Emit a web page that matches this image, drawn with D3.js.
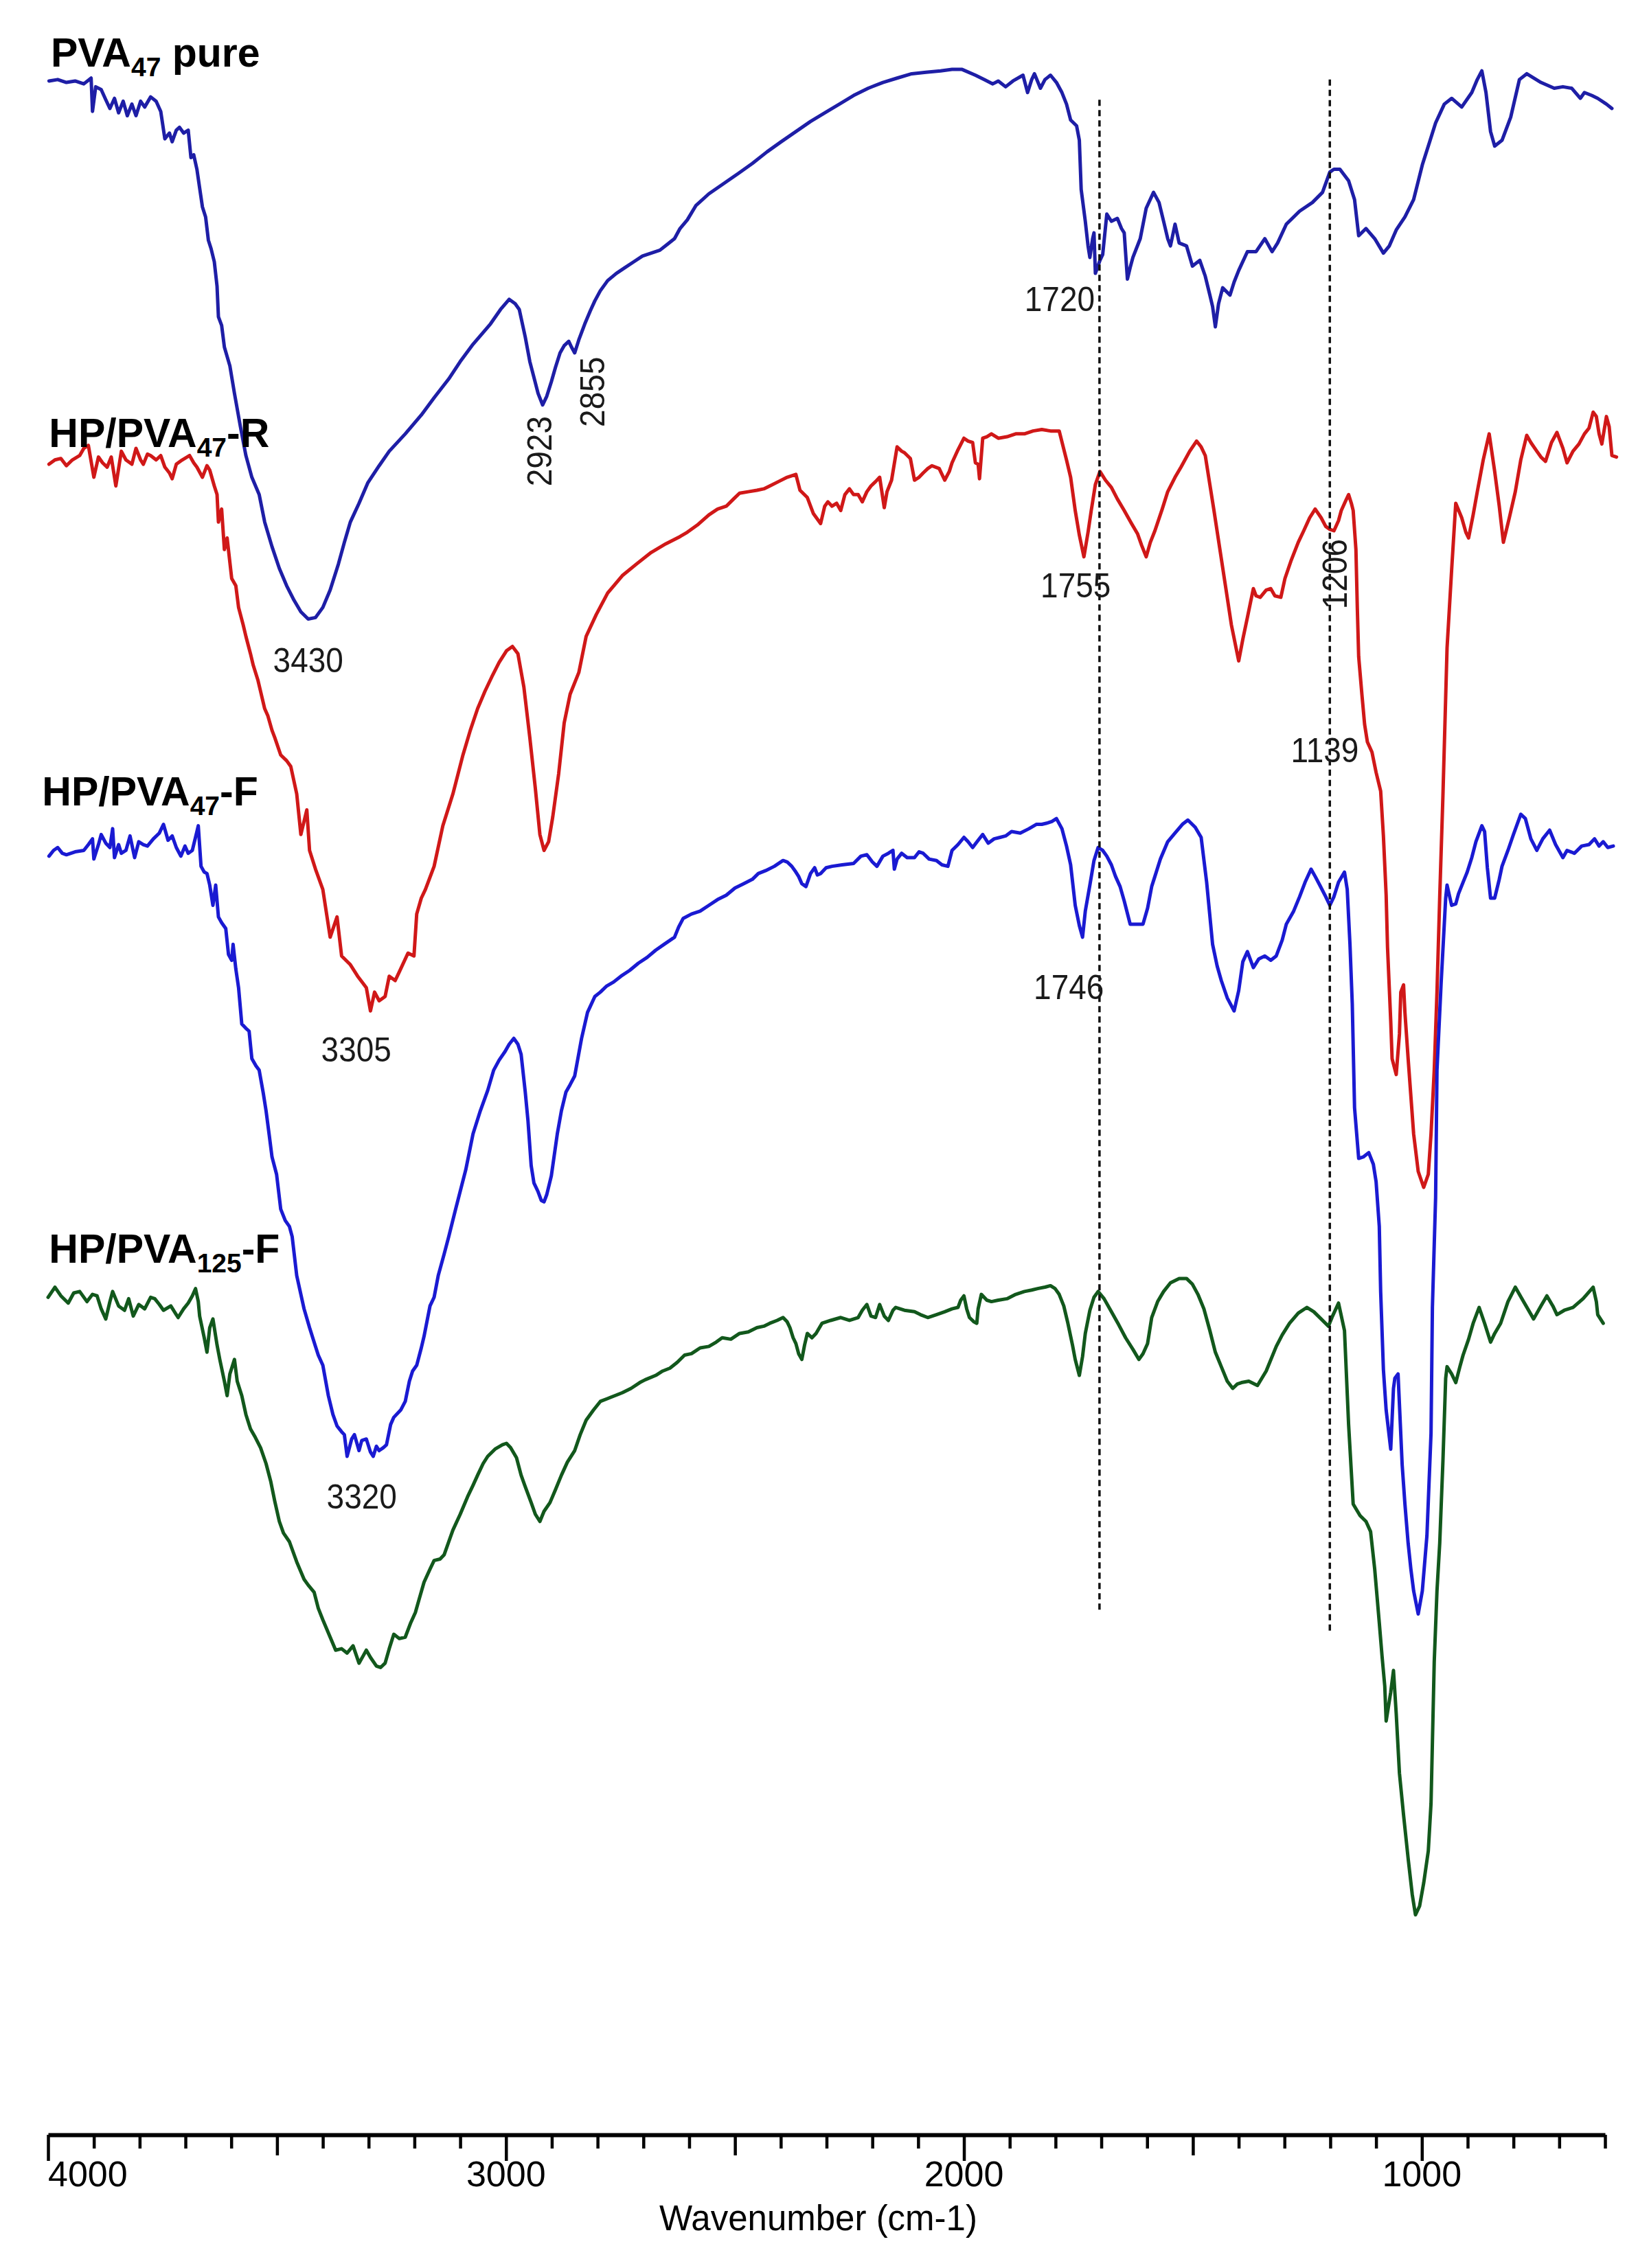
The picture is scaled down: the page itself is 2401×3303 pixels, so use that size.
<!DOCTYPE html>
<html><head><meta charset="utf-8">
<script src="https://cdn.jsdelivr.net/npm/d3@7"></script>
<style>
html,body{margin:0;padding:0;background:#fff;}
svg{display:block;background:#fff;}
text{font-family:"Liberation Sans", Arial, Helvetica, sans-serif;}
</style></head><body>
<svg id="chart" width="2401" height="3303"></svg>
<script>
// ---- DATA (wavenumber cm-1, offset transmittance a.u.) ----
const pvaPure = [[3998,1422],[3979,1423],[3960,1421],[3941,1422],[3922,1420],[3906,1424],[3903,1401],[3896,1418],[3884,1416],[3874,1409],[3865,1403],[3855,1410],[3846,1400],[3836,1408],[3827,1398],[3817,1406],[3808,1398],[3798,1408],[3789,1404],[3776,1411],[3764,1408],[3754,1401],[3745,1382],[3735,1386],[3729,1380],[3720,1388],[3713,1390],[3704,1386],[3694,1388],[3688,1369],[3682,1371],[3675,1361],[3669,1348],[3663,1335],[3656,1328],[3650,1312],[3644,1306],[3637,1297],[3631,1280],[3628,1259],[3621,1253],[3615,1238],[3603,1225],[3593,1206],[3580,1183],[3568,1163],[3555,1148],[3539,1136],[3527,1117],[3511,1100],[3495,1085],[3479,1073],[3463,1063],[3448,1055],[3432,1050],[3416,1051],[3400,1058],[3384,1070],[3366,1088],[3353,1103],[3340,1117],[3321,1130],[3302,1144],[3277,1156],[3255,1166],[3220,1178],[3185,1191],[3157,1203],[3125,1216],[3100,1228],[3072,1240],[3053,1247],[3034,1254],[3012,1264],[2993,1271],[2980,1268],[2971,1264],[2958,1245],[2948,1228],[2939,1217],[2930,1206],[2920,1198],[2911,1204],[2901,1214],[2892,1224],[2882,1234],[2873,1239],[2863,1242],[2857,1238],[2850,1234],[2841,1243],[2828,1254],[2816,1263],[2806,1270],[2794,1277],[2778,1284],[2759,1289],[2740,1293],[2721,1297],[2702,1301],[2683,1303],[2664,1305],[2648,1309],[2632,1313],[2620,1320],[2604,1326],[2585,1336],[2557,1344],[2525,1351],[2493,1358],[2462,1365],[2430,1373],[2399,1380],[2367,1387],[2335,1394],[2304,1400],[2272,1406],[2241,1412],[2209,1417],[2177,1421],[2146,1424],[2114,1427],[2083,1428],[2051,1429],[2026,1430],[2004,1430],[1975,1426],[1956,1423],[1937,1420],[1925,1422],[1909,1418],[1893,1422],[1871,1426],[1861,1414],[1852,1423],[1846,1427],[1833,1417],[1823,1423],[1811,1426],[1798,1421],[1786,1414],[1776,1406],[1767,1395],[1754,1391],[1748,1381],[1744,1347],[1735,1325],[1729,1308],[1725,1300],[1719,1313],[1716,1317],[1713,1289],[1703,1298],[1697,1302],[1688,1330],[1678,1325],[1665,1327],[1656,1320],[1650,1317],[1643,1285],[1637,1293],[1631,1300],[1615,1313],[1602,1334],[1586,1345],[1574,1338],[1564,1325],[1555,1313],[1549,1308],[1539,1323],[1530,1310],[1514,1308],[1501,1294],[1485,1298],[1473,1287],[1463,1274],[1457,1266],[1451,1252],[1444,1268],[1435,1279],[1419,1274],[1410,1283],[1400,1291],[1381,1304],[1362,1304],[1343,1313],[1327,1304],[1315,1310],[1296,1323],[1267,1332],[1239,1338],[1217,1345],[1201,1359],[1192,1361],[1179,1361],[1160,1353],[1147,1340],[1138,1315],[1122,1320],[1103,1313],[1084,1303],[1071,1308],[1056,1319],[1037,1328],[1018,1340],[999,1364],[983,1380],[970,1393],[951,1406],[935,1410],[913,1404],[891,1414],[879,1423],[869,1429],[860,1414],[850,1387],[841,1377],[825,1381],[806,1397],[787,1423],[771,1427],[740,1421],[711,1417],[692,1418],[673,1417],[654,1410],[645,1414],[629,1412],[616,1410],[597,1406],[585,1403]];

const hpPva47R = [[3998,1157],[3985,1160],[3972,1161],[3960,1156],[3947,1160],[3931,1163],[3922,1168],[3912,1170],[3900,1148],[3890,1162],[3881,1158],[3871,1155],[3862,1162],[3852,1142],[3840,1166],[3830,1160],[3817,1157],[3808,1168],[3798,1160],[3792,1157],[3783,1164],[3776,1163],[3764,1160],[3754,1163],[3745,1155],[3735,1151],[3729,1147],[3720,1157],[3707,1160],[3691,1163],[3682,1158],[3675,1155],[3663,1148],[3653,1156],[3647,1153],[3637,1142],[3631,1136],[3628,1117],[3621,1126],[3615,1098],[3609,1106],[3599,1078],[3590,1073],[3584,1058],[3574,1046],[3568,1038],[3558,1026],[3552,1018],[3542,1008],[3536,1000],[3527,988],[3520,983],[3511,973],[3505,968],[3492,956],[3479,952],[3470,948],[3457,929],[3448,901],[3435,918],[3429,890],[3416,877],[3400,863],[3384,830],[3369,844],[3359,817],[3340,811],[3324,803],[3312,798],[3305,795],[3296,779],[3287,792],[3277,786],[3264,789],[3255,803],[3242,800],[3233,806],[3214,819],[3201,817],[3195,846],[3185,857],[3176,863],[3157,879],[3138,907],[3116,929],[3094,956],[3078,973],[3062,988],[3046,1000],[3031,1010],[3015,1020],[2999,1028],[2986,1031],[2974,1026],[2961,1003],[2948,968],[2936,933],[2926,901],[2917,890],[2907,896],[2898,913],[2885,943],[2873,978],[2860,998],[2841,1013],[2825,1038],[2803,1053],[2778,1068],[2746,1080],[2715,1088],[2683,1096],[2651,1102],[2620,1107],[2604,1110],[2582,1115],[2557,1122],[2538,1126],[2519,1128],[2503,1133],[2490,1137],[2471,1138],[2452,1139],[2437,1140],[2424,1142],[2405,1145],[2386,1148],[2367,1150],[2358,1139],[2342,1134],[2329,1123],[2313,1116],[2304,1128],[2297,1131],[2288,1128],[2278,1130],[2269,1125],[2260,1136],[2250,1140],[2241,1136],[2231,1136],[2222,1131],[2212,1138],[2203,1142],[2193,1145],[2184,1148],[2174,1127],[2168,1138],[2158,1146],[2146,1169],[2136,1166],[2130,1165],[2117,1161],[2108,1146],[2098,1148],[2089,1151],[2079,1154],[2070,1156],[2054,1154],[2042,1146],[2032,1152],[2026,1158],[2013,1167],[2000,1175],[1991,1173],[1981,1172],[1975,1158],[1969,1157],[1966,1147],[1959,1175],[1950,1176],[1940,1178],[1925,1175],[1906,1176],[1887,1178],[1868,1178],[1849,1180],[1830,1181],[1811,1180],[1792,1180],[1776,1160],[1767,1148],[1757,1125],[1748,1108],[1738,1093],[1729,1110],[1722,1125],[1713,1143],[1703,1152],[1691,1146],[1678,1141],[1665,1133],[1650,1125],[1634,1116],[1621,1109],[1612,1101],[1602,1093],[1593,1103],[1583,1111],[1567,1126],[1555,1138],[1539,1148],[1526,1155],[1507,1166],[1492,1173],[1482,1169],[1473,1163],[1463,1143],[1454,1125],[1441,1098],[1428,1071],[1416,1046],[1400,1021],[1391,1036],[1381,1051],[1368,1071],[1362,1066],[1353,1065],[1340,1070],[1330,1071],[1321,1066],[1308,1065],[1299,1078],[1286,1090],[1270,1103],[1258,1111],[1245,1120],[1233,1126],[1220,1120],[1210,1114],[1201,1112],[1192,1111],[1182,1118],[1176,1125],[1166,1132],[1160,1136],[1154,1130],[1150,1125],[1144,1098],[1141,1058],[1138,1024],[1131,998],[1125,977],[1119,965],[1109,958],[1100,944],[1090,931],[1084,900],[1078,859],[1075,823],[1068,772],[1065,746],[1056,735],[1049,763],[1046,792],[1040,797],[1037,778],[1030,746],[1024,720],[1018,694],[1008,668],[996,657],[986,666],[980,694],[973,738],[967,792],[961,858],[954,928],[945,1030],[935,1084],[926,1130],[913,1120],[904,1110],[898,1106],[888,1122],[879,1138],[866,1160],[853,1178],[841,1152],[831,1128],[822,1103],[809,1120],[796,1138],[784,1160],[771,1177],[762,1172],[749,1166],[740,1162],[730,1159],[717,1172],[705,1179],[692,1168],[683,1158],[670,1166],[657,1171],[645,1178],[635,1182],[626,1193],[619,1190],[613,1178],[607,1171],[597,1190],[591,1183],[585,1163],[575,1162]];

const hpPva47F = [[3998,886],[3988,890],[3979,892],[3969,888],[3960,887],[3941,889],[3922,890],[3912,894],[3903,898],[3900,884],[3890,894],[3884,901],[3874,895],[3865,892],[3859,905],[3855,885],[3846,894],[3840,888],[3830,890],[3821,900],[3811,885],[3802,896],[3792,894],[3783,893],[3770,898],[3757,902],[3748,908],[3738,897],[3729,900],[3720,892],[3710,886],[3701,893],[3694,888],[3685,890],[3675,903],[3672,907],[3666,879],[3659,875],[3653,874],[3647,866],[3640,852],[3634,866],[3628,844],[3621,840],[3612,836],[3606,818],[3599,814],[3596,825],[3590,808],[3584,795],[3577,770],[3568,767],[3561,765],[3555,746],[3546,741],[3539,738],[3530,722],[3524,710],[3517,693],[3511,678],[3501,666],[3492,642],[3482,634],[3473,630],[3467,623],[3457,596],[3448,583],[3441,573],[3429,560],[3416,547],[3410,541],[3400,534],[3388,513],[3378,500],[3369,492],[3359,488],[3353,486],[3347,471],[3337,483],[3331,486],[3321,475],[3315,482],[3305,483],[3296,474],[3290,471],[3283,478],[3277,475],[3268,477],[3261,479],[3252,493],[3245,498],[3230,503],[3220,509],[3211,523],[3204,530],[3195,534],[3185,546],[3179,554],[3166,575],[3157,581],[3148,596],[3135,611],[3125,623],[3110,642],[3097,658],[3088,669],[3072,694],[3056,710],[3040,724],[3027,738],[3015,745],[3002,751],[2993,756],[2983,760],[2974,756],[2967,749],[2958,723],[2952,703],[2945,672],[2939,660],[2930,654],[2923,648],[2917,647],[2911,652],[2901,665],[2888,694],[2879,710],[2869,723],[2860,728],[2850,734],[2835,760],[2822,778],[2806,789],[2794,792],[2781,796],[2765,799],[2749,803],[2730,807],[2711,812],[2692,816],[2673,821],[2655,825],[2632,830],[2623,837],[2613,843],[2595,846],[2576,848],[2557,852],[2538,856],[2519,859],[2500,864],[2481,867],[2462,870],[2449,874],[2433,876],[2414,879],[2395,883],[2386,882],[2376,879],[2367,875],[2361,872],[2354,867],[2345,865],[2335,874],[2326,878],[2320,873],[2313,874],[2301,878],[2288,879],[2266,880],[2241,881],[2225,886],[2212,887],[2200,882],[2190,879],[2177,886],[2165,888],[2155,890],[2152,877],[2146,884],[2136,888],[2124,885],[2108,885],[2098,889],[2089,888],[2076,884],[2060,883],[2048,880],[2035,879],[2026,890],[2013,894],[2000,899],[1991,896],[1981,892],[1969,897],[1959,901],[1947,895],[1934,898],[1921,899],[1909,900],[1896,903],[1877,902],[1858,905],[1842,908],[1830,908],[1817,909],[1808,910],[1798,912],[1786,905],[1776,893],[1767,880],[1757,852],[1748,838],[1741,830],[1735,848],[1725,866],[1716,883],[1707,892],[1697,890],[1688,886],[1678,880],[1669,872],[1659,865],[1650,855],[1637,839],[1624,839],[1609,839],[1599,850],[1590,865],[1583,872],[1571,884],[1555,896],[1539,902],[1523,908],[1511,911],[1495,906],[1482,899],[1470,868],[1457,825],[1447,810],[1438,800],[1425,788],[1410,779],[1400,793],[1391,813],[1381,820],[1368,809],[1356,815],[1343,817],[1330,814],[1318,817],[1305,828],[1296,839],[1280,848],[1267,858],[1255,868],[1242,877],[1233,872],[1223,866],[1210,858],[1201,852],[1192,858],[1182,868],[1169,875],[1163,863],[1157,825],[1152,784],[1147,712],[1138,677],[1128,678],[1116,681],[1106,673],[1100,661],[1093,630],[1090,585],[1084,531],[1078,503],[1068,476],[1062,518],[1059,525],[1052,528],[1043,465],[1037,438],[1030,411],[1024,393],[1018,378],[1008,362],[999,378],[989,416],[980,487],[977,574],[970,650],[967,738],[961,778],[958,798],[948,857],[945,866],[935,852],[926,853],[920,860],[910,868],[901,875],[891,885],[882,896],[869,907],[863,903],[857,878],[850,857],[841,857],[831,870],[825,879],[812,890],[800,901],[784,915],[774,912],[762,898],[749,890],[736,898],[721,904],[708,894],[692,885],[683,890],[667,888],[651,893],[635,894],[623,898],[613,893],[604,896],[594,892],[582,893]];

const hpPva125F = [[4000,581],[3985,588],[3972,582],[3956,577],[3944,584],[3931,585],[3915,578],[3903,583],[3893,582],[3884,573],[3874,566],[3865,578],[3859,585],[3846,575],[3833,572],[3824,580],[3814,568],[3802,576],[3789,573],[3776,581],[3767,580],[3757,576],[3748,572],[3732,575],[3716,567],[3704,573],[3694,577],[3685,582],[3678,587],[3672,578],[3669,568],[3659,553],[3653,543],[3647,560],[3640,566],[3631,548],[3625,538],[3615,523],[3609,513],[3603,528],[3593,538],[3587,523],[3577,513],[3568,500],[3558,490],[3549,485],[3536,477],[3524,466],[3514,454],[3505,440],[3495,426],[3486,418],[3473,412],[3457,398],[3441,386],[3432,382],[3419,377],[3410,366],[3400,358],[3384,346],[3372,337],[3359,338],[3347,335],[3334,340],[3321,328],[3312,333],[3305,337],[3296,332],[3283,326],[3274,325],[3264,328],[3255,338],[3245,348],[3233,345],[3220,346],[3208,356],[3198,363],[3189,373],[3179,384],[3166,393],[3157,399],[3144,400],[3135,403],[3125,412],[3116,420],[3100,431],[3084,443],[3072,451],[3062,458],[3050,466],[3040,471],[3024,476],[3008,479],[2999,480],[2990,477],[2977,470],[2967,458],[2958,450],[2945,439],[2936,431],[2926,426],[2917,433],[2904,439],[2892,448],[2879,458],[2866,467],[2850,475],[2838,486],[2825,496],[2809,503],[2794,509],[2778,511],[2762,513],[2746,515],[2727,518],[2708,522],[2696,524],[2673,527],[2658,530],[2642,532],[2626,536],[2610,541],[2595,542],[2576,546],[2557,547],[2541,550],[2528,553],[2509,552],[2490,556],[2471,557],[2452,560],[2437,561],[2424,563],[2408,565],[2395,567],[2386,564],[2380,560],[2373,553],[2367,549],[2361,542],[2354,538],[2348,548],[2342,556],[2332,553],[2323,556],[2310,563],[2291,565],[2269,567],[2250,565],[2231,567],[2222,572],[2212,576],[2203,568],[2193,567],[2184,576],[2174,568],[2165,565],[2155,572],[2149,574],[2130,572],[2108,571],[2095,569],[2079,567],[2060,569],[2042,571],[2026,573],[2013,574],[2007,579],[2000,582],[1994,573],[1988,567],[1978,564],[1972,563],[1969,573],[1962,583],[1950,579],[1940,578],[1925,579],[1906,580],[1887,583],[1868,585],[1852,586],[1839,587],[1823,588],[1811,589],[1801,587],[1792,583],[1782,575],[1773,563],[1763,548],[1757,538],[1748,527],[1741,540],[1735,556],[1725,572],[1716,581],[1707,585],[1694,580],[1678,571],[1662,562],[1647,553],[1631,545],[1618,538],[1609,542],[1599,549],[1590,567],[1577,578],[1564,585],[1549,591],[1530,594],[1514,594],[1501,590],[1489,583],[1476,573],[1463,558],[1451,543],[1438,533],[1425,523],[1413,518],[1403,521],[1394,522],[1378,523],[1359,520],[1340,530],[1318,547],[1305,555],[1289,563],[1270,570],[1251,574],[1236,571],[1220,566],[1204,561],[1195,568],[1182,577],[1169,558],[1160,493],[1150,438],[1135,430],[1122,426],[1112,419],[1103,393],[1093,356],[1087,333],[1081,312],[1078,288],[1068,308],[1062,323],[1056,293],[1049,252],[1040,223],[1030,193],[1021,168],[1014,154],[1005,160],[996,176],[986,198],[980,231],[973,329],[967,378],[961,411],[954,468],[948,525],[945,533],[935,528],[926,522],[917,533],[910,541],[898,552],[888,563],[875,574],[863,563],[850,550],[841,556],[828,563],[812,578],[796,588],[778,578],[756,566],[740,575],[727,582],[714,575],[705,569],[689,572],[670,574],[648,580],[626,588],[619,578],[616,569],[610,566],[604,563]];

const seriesLabels = [
  {main:"PVA", sub:"47", tail:" pure"},
  {main:"HP/PVA", sub:"47", tail:"-R"},
  {main:"HP/PVA", sub:"47", tail:"-F"},
  {main:"HP/PVA", sub:"125", tail:"-F"}
];
const peakLabels = ["3430","2923","2855","1720","1755","1206","1139","3305","1746","3320"];
const markerWavenumbers = [1704, 1201];
const xTickLabels = [4000, 3000, 2000, 1000];
const xAxisTitle = "Wavenumber (cm-1)";

// ---- LAYOUT / STYLE ----
const W = 2401, H = 3303;
const x = d3.scaleLinear().domain([4000, 600]).range([70, 2337]);
const y = d3.scaleLinear().domain([0, 1478]).range([3113, 0]);
const colors = ["#1e1ea6", "#d01818", "#1a1ad2", "#12581c"];
const labelAnchors = [[3994,1432],[3998,1169],[4013,921],[3998,605]];
const peakLayout = [
  {w:3432, v:1013, rot:false},
  {w:2928, v:1166, rot:true},
  {w:2812, v:1207, rot:true},
  {w:1791, v:1263, rot:false},
  {w:1756, v:1065, rot:false},
  {w:1191, v:1081, rot:true},
  {w:1212, v:951, rot:false},
  {w:3327, v:744, rot:false},
  {w:1771, v:787, rot:false},
  {w:3315, v:435, rot:false}
];
const markerExtents = [[1409, 365], [1423, 348]];

const svg = d3.select("#chart");
svg.append("rect").attr("width", W).attr("height", H).attr("fill", "#fff");

// spectra
const line = d3.line().x(d => x(d[0])).y(d => y(d[1]));
const allSeries = [pvaPure, hpPva47R, hpPva47F, hpPva125F];
svg.append("g").selectAll("path").data(allSeries).join("path")
  .attr("d", line)
  .attr("fill", "none")
  .attr("stroke", (d, i) => colors[i])
  .attr("stroke-width", 5)
  .attr("stroke-linejoin", "round")
  .attr("stroke-linecap", "round");

// dashed reference lines
svg.append("g").selectAll("line").data(markerWavenumbers).join("line")
  .attr("x1", d => x(d)).attr("x2", d => x(d))
  .attr("y1", (d, i) => y(markerExtents[i][0]))
  .attr("y2", (d, i) => y(markerExtents[i][1]))
  .attr("stroke", "#111").attr("stroke-width", 3.5)
  .attr("stroke-dasharray", "9,6");

// series labels
const lg = svg.append("g");
seriesLabels.forEach((s, i) => {
  const t = lg.append("text")
    .attr("x", x(labelAnchors[i][0])).attr("y", y(labelAnchors[i][1]))
    .attr("font-weight", "bold").attr("font-size", 59).attr("fill", "#000")
    .style("white-space", "pre");
  t.append("tspan").text(s.main);
  t.append("tspan").attr("font-size", 39).attr("dy", 14).text(s.sub);
  t.append("tspan").attr("font-size", 59).attr("dy", -14).text(s.tail);
});

// peak annotations
const pg = svg.append("g");
peakLabels.forEach((txt, i) => {
  const p = peakLayout[i];
  const px = x(p.w), py = y(p.v);
  const tr = p.rot ? `translate(${px},${py}) rotate(-90) scale(1,1.1)` : `translate(${px},${py}) scale(1,1.1)`;
  pg.append("text").attr("transform", tr)
    .attr("text-anchor", "middle")
    .attr("dominant-baseline", p.rot ? "central" : "auto")
    .attr("font-size", 46).attr("fill", "#1a1a1a")
    .text(txt);
});

// x axis
const axisG = svg.append("g").attr("transform", "translate(0,3109)");
const axis = d3.axisBottom(x)
  .tickValues(d3.range(600, 4001, 100))
  .tickSizeOuter(0).tickSizeInner(20).tickFormat("");
axisG.call(axis);
axisG.select(".domain").attr("stroke", "#000").attr("stroke-width", 6);
axisG.selectAll(".tick line").attr("stroke", "#000").attr("stroke-width", 4.5)
  .attr("y2", d => d % 1000 === 0 ? 38 : (d % 500 === 0 ? 30 : 20));

svg.append("g").selectAll("text").data(xTickLabels).join("text")
  .attr("x", d => x(d)).attr("y", 3184)
  .attr("text-anchor", (d, i) => i === 0 ? "start" : "middle")
  .attr("font-size", 52).attr("fill", "#000")
  .text(d => d);

svg.append("text").attr("x", (x(4000) + x(600)) / 2 - 12).attr("y", 3248)
  .attr("text-anchor", "middle").attr("font-size", 51).attr("fill", "#000")
  .text(xAxisTitle);
</script>
</body></html>
